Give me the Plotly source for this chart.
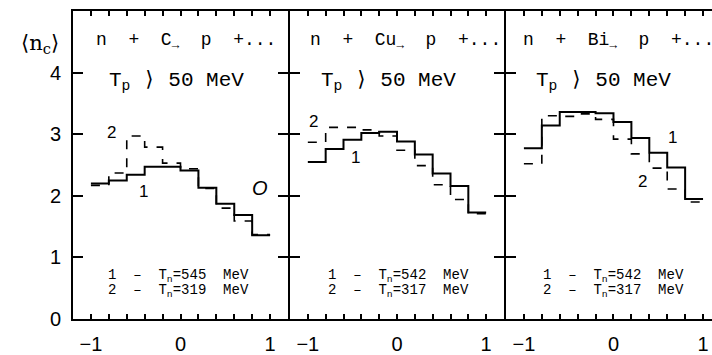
import plotly.graph_objects as go

# ---- data ----
cos_edges = [-1.0, -0.8, -0.6, -0.4, -0.2, 0.0, 0.2, 0.4, 0.6, 0.8, 1.0]
x_tick_vals = [-1.0, -0.8, -0.6, -0.4, -0.2, 0.0, 0.2, 0.4, 0.6, 0.8, 1.0]
x_tick_text = ["\u22121", "", "", "", "", "0", "", "", "", "", "1"]
y_tick_vals = [0, 1, 2, 3, 4]

c_545 = [2.20, 2.25, 2.34, 2.47, 2.47, 2.41, 2.13, 1.87, 1.69, 1.36]
c_319 = [2.17, 2.37, 2.97, 2.79, 2.53, 2.44, 2.12, 1.80, 1.59, 1.37]
cu_542 = [2.55, 2.76, 2.91, 3.02, 3.04, 2.88, 2.67, 2.36, 2.16, 1.73]
cu_317 = [2.87, 3.11, 3.11, 3.07, 2.97, 2.74, 2.49, 2.18, 1.94, 1.71]
bi_542 = [2.77, 3.14, 3.36, 3.36, 3.34, 3.20, 2.94, 2.70, 2.46, 1.95]
bi_317 = [2.52, 3.30, 3.29, 3.33, 3.24, 2.92, 2.68, 2.45, 2.11, 1.90]

titles = ["n  +  C<sub>\u2192</sub>  p  +...",
          "n  +  Cu<sub>\u2192</sub>  p  +...",
          "n  +  Bi<sub>\u2192</sub>  p  +..."]
cut_text = "T<sub>p</sub> \u27e9 50 MeV"
leg1 = ["1  \u2013  T<sub>n</sub>=545  MeV", "1  \u2013  T<sub>n</sub>=542  MeV", "1  \u2013  T<sub>n</sub>=542  MeV"]
leg2 = ["2  \u2013  T<sub>n</sub>=319  MeV", "2  \u2013  T<sub>n</sub>=317  MeV", "2  \u2013  T<sub>n</sub>=317  MeV"]

solid_series = [c_545, cu_542, bi_542]
dash_series = [c_319, cu_317, bi_317]

MONO = "Liberation Mono, Courier New, monospace"
SANS = "Liberation Sans, Arial, sans-serif"

fig = go.Figure()
for i in range(3):
    xa = "x" if i == 0 else f"x{i+1}"
    ya = "y" if i == 0 else f"y{i+1}"
    fig.add_trace(go.Scatter(x=cos_edges, y=dash_series[i] + [dash_series[i][-1]],
                             mode="lines", line=dict(shape="hv", color="black", width=1.6, dash="dash"),
                             xaxis=xa, yaxis=ya, showlegend=False))
    fig.add_trace(go.Scatter(x=cos_edges, y=solid_series[i] + [solid_series[i][-1]],
                             mode="lines", line=dict(shape="hv", color="black", width=2),
                             xaxis=xa, yaxis=ya, showlegend=False))

W = 712
L = 73
pw = W - L
d1 = [0, 215 / pw]
d2 = [217 / pw, 431 / pw]
d3 = [433 / pw, 1]

xcommon = dict(tickvals=x_tick_vals, ticktext=x_tick_text, ticks="inside", ticklen=5, tickwidth=1.5,
               tickcolor="black", showline=True, linecolor="black", linewidth=2, mirror="ticks",
               showgrid=False, zeroline=False, ticklabelstandoff=6,
               tickfont=dict(family=SANS, size=20, color="black"))
ycommon = dict(range=[0, 5], tickvals=y_tick_vals, ticks="inside", ticklen=10, tickwidth=1.5,
               tickcolor="black", linecolor="black", linewidth=2,
               showgrid=False, zeroline=False, tickfont=dict(family=SANS, size=20, color="black"))

fig.update_layout(
    width=712, height=355,
    margin=dict(l=L, r=0, t=11, b=25),
    paper_bgcolor="white", plot_bgcolor="white",
    xaxis=dict(domain=d1, range=[-1.2, 1.2], anchor="y", **xcommon),
    xaxis2=dict(domain=d2, range=[-1.2, 1.2], anchor="y2", **xcommon),
    xaxis3=dict(domain=d3, range=[-1.2, 1.1], anchor="y3", **xcommon),
    yaxis=dict(anchor="x", showline=True, mirror="ticks", showticklabels=True, ticklabelstandoff=6, **ycommon),
    yaxis2=dict(anchor="x2", showline=True, mirror="ticks", showticklabels=False, **ycommon),
    yaxis3=dict(anchor="x3", showline=False, mirror=False, showticklabels=False, **ycommon),
)

ann = []
title_x = [-0.97, -1.0, -1.03]
cut_x = [-0.82, -0.88, -0.89]
leg_x = [-0.83, -0.80, -0.81]
for i in range(3):
    xr = "x" if i == 0 else f"x{i+1}"
    yr = "y" if i == 0 else f"y{i+1}"
    ann.append(dict(x=title_x[i], y=4.5, xref=xr, yref=yr, text=titles[i], showarrow=False,
                    xanchor="left", yanchor="middle", font=dict(family=MONO, size=18, color="black")))
    ann.append(dict(x=cut_x[i], y=3.86, xref=xr, yref=yr, text=cut_text, showarrow=False,
                    xanchor="left", yanchor="middle", font=dict(family=MONO, size=21, color="black")))
    ann.append(dict(x=leg_x[i], y=0.705, xref=xr, yref=yr, text=leg1[i], showarrow=False,
                    xanchor="left", yanchor="middle", font=dict(family=MONO, size=14, color="black")))
    ann.append(dict(x=leg_x[i], y=0.455, xref=xr, yref=yr, text=leg2[i], showarrow=False,
                    xanchor="left", yanchor="middle", font=dict(family=MONO, size=14, color="black")))

curve_labels = [("1", -0.41, 2.07, "x", "y"), ("2", -0.77, 3.02, "x", "y"),
                ("1", -0.46, 2.62, "x2", "y2"), ("2", -0.94, 3.20, "x2", "y2"),
                ("1", 0.66, 2.95, "x3", "y3"), ("2", 0.32, 2.23, "x3", "y3")]
for t, xx, yy, xr, yr in curve_labels:
    ann.append(dict(x=xx, y=yy, xref=xr, yref=yr, text=t, showarrow=False,
                    font=dict(family=SANS, size=17, color="black")))

ann.append(dict(x=0.89, y=2.12, xref="x", yref="y", text="<i>O</i>", showarrow=False,
                font=dict(family=SANS, size=20, color="black")))

ann.append(dict(x=0, y=1 - (30 - 11) / 319, xref="paper", yref="paper", xanchor="right", xshift=-12,
                text="\u27e8n<sub>c</sub>\u27e9", showarrow=False,
                font=dict(family="DejaVu Serif, Liberation Serif, serif", size=21, color="black")))

fig.update_layout(annotations=ann)
fig.write_html("out.html")
